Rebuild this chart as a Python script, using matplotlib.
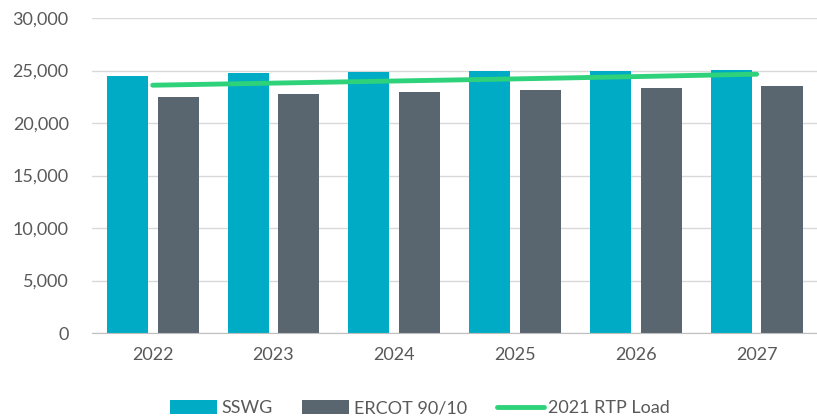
import numpy as np
import matplotlib.pyplot as plt
from matplotlib.ticker import FuncFormatter

years = ['2022', '2023', '2024', '2025', '2026', '2027']
sswg = [24450, 24750, 24870, 24960, 24960, 25090]
ercot = [22490, 22720, 22910, 23130, 23350, 23570]
rtp_load = [23600, 23800, 24000, 24200, 24420, 24650]

plt.rcParams['font.family'] = ['Lato', 'DejaVu Sans']

fig = plt.figure(figsize=(8.17, 4.18), dpi=100)
ax = fig.add_axes([0.113, 0.203, 0.887, 0.754])

x = np.arange(len(years))
w = 0.34
b1 = ax.bar(x - 0.21, sswg, w, color='#00ACC5', label='SSWG', zorder=2)
b2 = ax.bar(x + 0.21, ercot, w, color='#59656F', label='ERCOT 90/10', zorder=2)
l1, = ax.plot(x, rtp_load, color='#2DD27A', lw=3.5, label='2021 RTP Load', zorder=3,
              solid_capstyle='round')

ax.set_xlim(-0.5, len(years) - 0.5)
ax.set_ylim(0, 30000)
ax.set_yticks(range(0, 30001, 5000))
ax.yaxis.set_major_formatter(FuncFormatter(lambda v, p: f'{int(v):,}'))
ax.set_xticks(x)
ax.set_xticklabels(years)
ax.grid(axis='y', color='#D9D9D9', lw=1, zorder=0)
for s in ['top', 'right', 'left']:
    ax.spines[s].set_visible(False)
ax.spines['bottom'].set_color('#BFBFBF')
ax.tick_params(axis='both', length=0, labelsize=13, colors='#595959', pad=10)
ax.tick_params(axis='y', pad=17)

fig.legend([b1, b2, l1], ['SSWG', 'ERCOT 90/10', '2021 RTP Load'],
           loc='lower center', bbox_to_anchor=(0.514, -0.035), ncol=3, frameon=False,
           fontsize=13, labelcolor='#595959', handlelength=2.6, handleheight=0.8,
           handletextpad=0.25, columnspacing=1.65)

fig.savefig('out.png', dpi=100)
